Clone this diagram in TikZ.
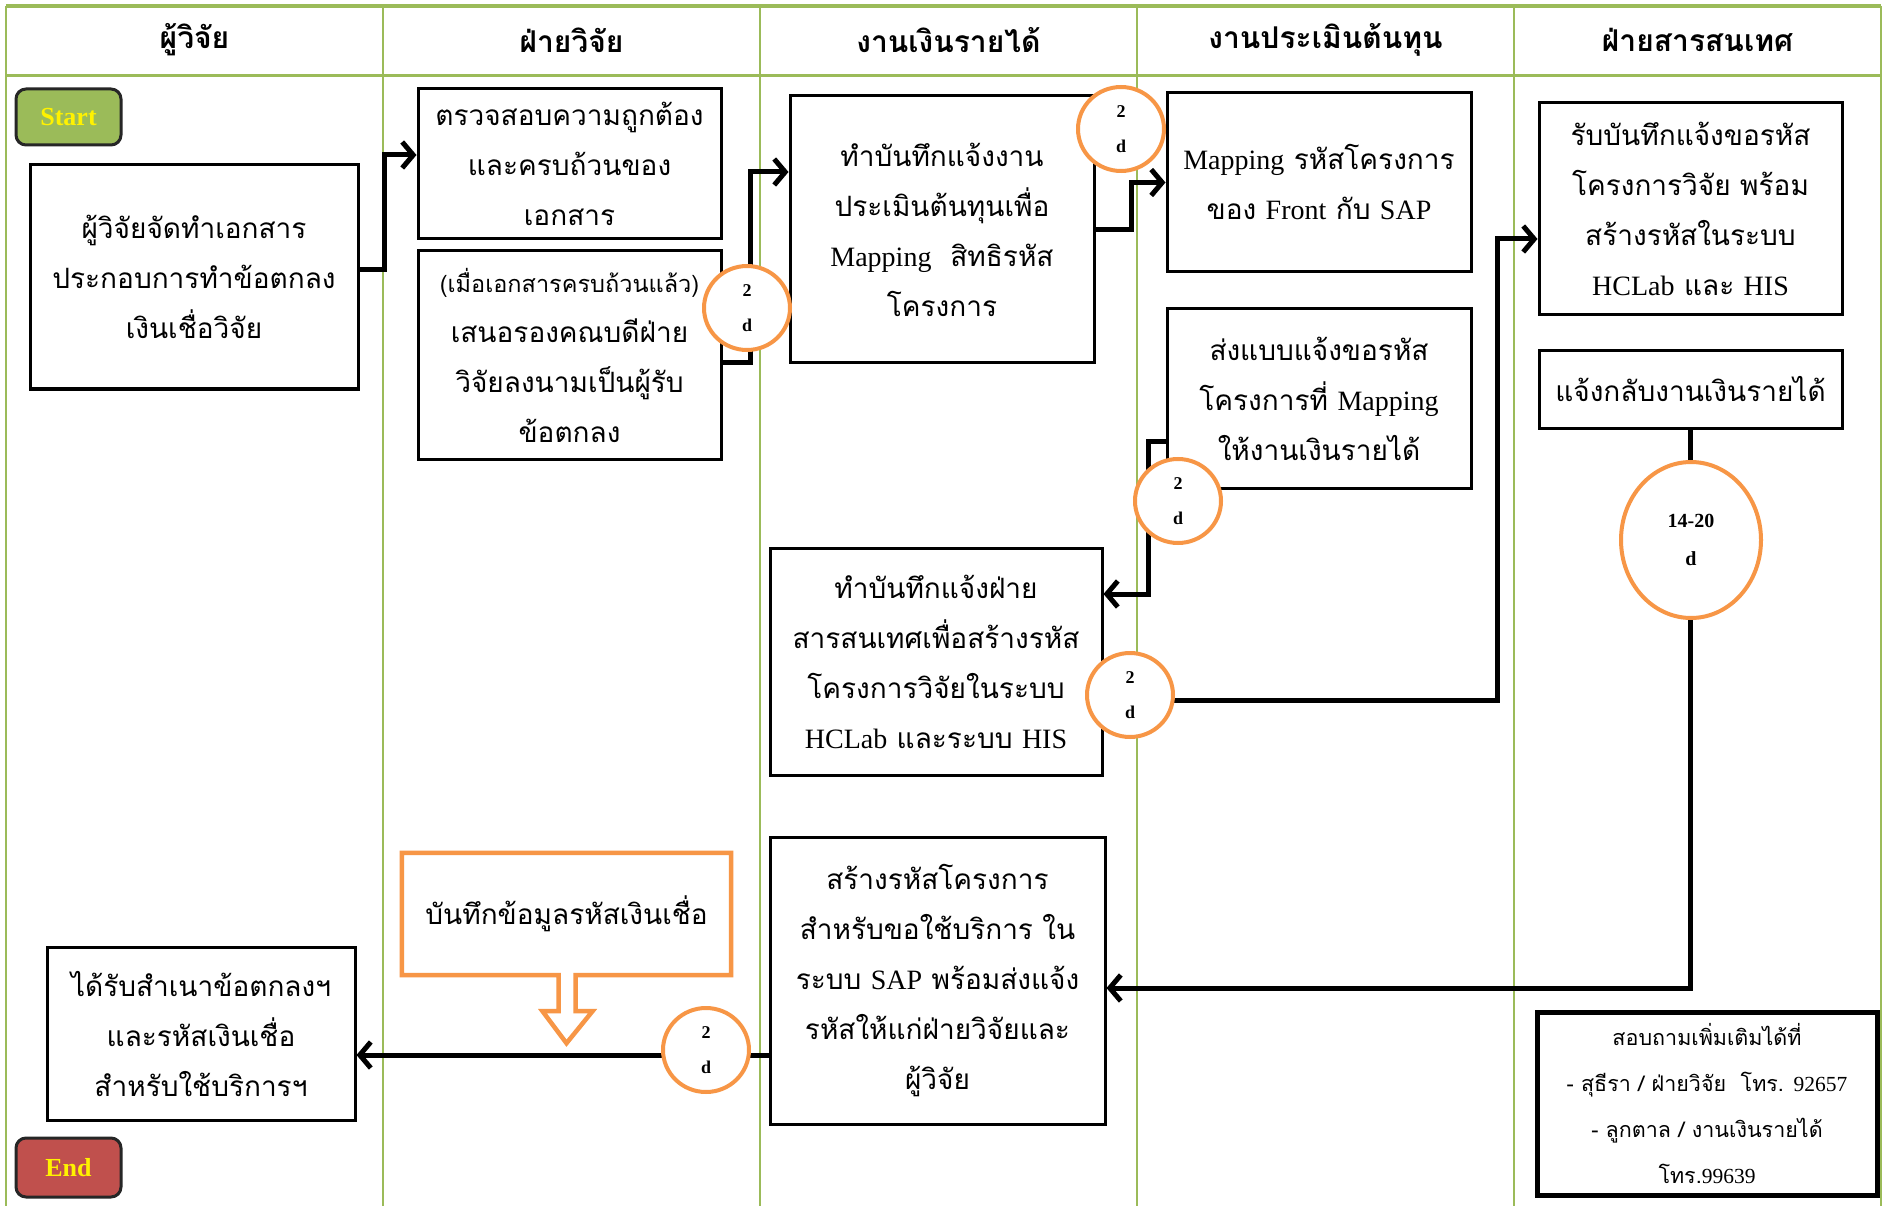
\documentclass[tikz,border=0pt]{standalone}
\usepackage{fontspec}
\setmainfont{Liberation Serif}
\newfontfamily\thaifont[Script=Thai]{Loma}
\newcommand\latw[1]{{\rmfamily #1}}
\usetikzlibrary{arrows.meta,calc,shapes.geometric}
\definecolor{lanegreen}{HTML}{9BBB59}
\definecolor{orng}{HTML}{F79646}
\definecolor{endred}{HTML}{C0504D}
\begin{document}
\begin{tikzpicture}[x=1pt,y=-1pt,
  lane/.style={draw=lanegreen, line width=2.5pt},
  hdr/.style={font=\thaifont\bfseries\fontsize{30}{36}\selectfont, inner sep=0pt},
  box/.style={draw=black, line width=3pt, fill=white, align=center, inner sep=0pt,
    font=\thaifont\fontsize{28}{50}\selectfont},
  term/.style={draw=black!85, line width=3pt, rounded corners=10pt, minimum width=105, minimum height=56,
    font=\bfseries\fontsize{26}{26}\selectfont, text=yellow, inner sep=0pt},
  dur/.style={ellipse, draw=orng, line width=4pt, fill=white, inner sep=0pt, align=center,
    minimum width=86, minimum height=84, font=\bfseries\fontsize{18}{35}\selectfont},
  conn/.style={draw=black, line width=5pt, line join=miter, -{Straight Barb[length=11pt,width=26pt]}},
  callout/.style={draw=orng, line width=4.5pt, fill=white, line join=miter}
]
\useasboundingbox (0,0) rectangle (1883,1206);
\fill[white] (0,0) rectangle (1883,1206);

% lanes
\draw[lane, line width=4pt] (6,6) -- (1881,6);
\draw[lane, line width=3pt] (6,76) -- (1881,76);
\foreach \xx in {6,383,760,1137,1514,1881} \draw[lane] (\xx,6) -- (\xx,1206);

\node[hdr] (h1) at (194.5,40) {ผู้วิจัย};
\node[hdr] (h2) at (571.5,40) {ฝ่ายวิจัย};
\node[hdr] (h3) at (948.5,40) {งานเงินรายได้};
\node[hdr] (h4) at (1325.5,40) {งานประเมินต้นทุน};
\node[hdr] (h5) at (1697.5,40) {ฝ่ายสารสนเทศ};

% terminals
\node[term, fill=lanegreen] (start) at (68.5,117) {Start};
\node[term, fill=endred, minimum height=59] (end) at (68.5,1167.5) {End};

% boxes
\node[box, minimum width=328, minimum height=224] (A) at (194,277)
  {ผู้วิจัยจัดทำเอกสาร\\ประกอบการทำข้อตกลง\\เงินเชื่อวิจัย};
\node[box, minimum width=303, minimum height=150] (B) at (569.5,164)
  {ตรวจสอบความถูกต้อง\\และครบถ้วนของ\\เอกสาร};
\node[box, minimum width=303, minimum height=208] (C) at (569.5,355)
  {{\fontsize{23.5}{50}\selectfont (เมื่อเอกสารครบถ้วนแล้ว)}\\เสนอรองคณบดีฝ่าย\\วิจัยลงนามเป็นผู้รับ\\ข้อตกลง};
\node[box, minimum width=304, minimum height=267] (D) at (942,229.5)
  {ทำบันทึกแจ้งงาน\\ประเมินต้นทุนเพื่อ\\\latw{Mapping}~~สิทธิรหัส\\โครงการ};
\node[box, minimum width=304, minimum height=179] (E) at (1319,182.5)
  {\latw{Mapping} รหัสโครงการ\\ของ \latw{Front} กับ \latw{SAP}};
\node[box, minimum width=304, minimum height=179] (F) at (1319,398.5)
  {ส่งแบบแจ้งขอรหัส\\โครงการที่ \latw{Mapping}\\ให้งานเงินรายได้};
\node[box, minimum width=332, minimum height=227] (G) at (936,661.5)
  {ทำบันทึกแจ้งฝ่าย\\สารสนเทศเพื่อสร้างรหัส\\โครงการวิจัยในระบบ\\\latw{HCLab} และระบบ \latw{HIS}};
\node[box, minimum width=303, minimum height=212] (H) at (1690.5,209)
  {รับบันทึกแจ้งขอรหัส\\โครงการวิจัย พร้อม\\สร้างรหัสในระบบ\\\latw{HCLab} และ \latw{HIS}};
\node[box, minimum width=303, minimum height=77] (I) at (1690.5,389.5)
  {แจ้งกลับงานเงินรายได้};
\node[box, minimum width=335, minimum height=287] (J) at (937.5,980.5)
  {สร้างรหัสโครงการ\\สำหรับขอใช้บริการ ใน\\ระบบ \latw{SAP} พร้อมส่งแจ้ง\\รหัสให้แก่ฝ่ายวิจัยและ\\ผู้วิจัย};
\node[box, minimum width=308, minimum height=173] (M) at (201,1033.5)
  {ได้รับสำเนาข้อตกลงฯ\\และรหัสเงินเชื่อ\\สำหรับใช้บริการฯ};
\node[box, line width=5pt, minimum width=340, minimum height=183,
  font=\thaifont\fontsize{21.5}{46}\selectfont] (K) at (1707,1103.5)
  {สอบถามเพิ่มเติมได้ที่\\- สุธีรา / ฝ่ายวิจัย~~โทร. \latw{92657}\\- ลูกตาล / งานเงินรายได้\\โทร.\latw{99639}};

% callout
\node[minimum width=329, minimum height=122, inner sep=0pt] (L) at (566.5,914) {};
\draw[callout] (L.north west) -- (L.north east) -- (L.south east)
  -- ([xshift=9pt]L.south) -- ++(0,36) -- ++(17,0) -- ++(-26,32) -- ++(-24,-32)
  -- ++(16,0) -- ([xshift=-8pt]L.south) -- (L.south west) -- cycle;
\node[font=\thaifont\fontsize{28}{50}\selectfont] (Lt) at (L.center) {บันทึกข้อมูลรหัสเงินเชื่อ};

% connectors
\draw[conn] ([yshift=7pt]A.east) -- ++(25,0) |- ([yshift=9pt]B.west);
\draw[conn] ([yshift=-8pt]C.east) -- ++(28,0) |- ([yshift=57.5pt]D.west);
\draw[conn] (D.east) -- ++(36,0) |- (E.west);
\draw[conn] ([yshift=-42.5pt]F.west) -- ++(-17,0) |- ([yshift=67.5pt]G.east);
\draw[conn] ([yshift=-38.5pt]G.east) -- ++(394,0) |- ([yshift=-30pt]H.west);
\draw[conn] (I.south) |- ([yshift=-7.5pt]J.east);
\draw[conn] ([yshift=-74.5pt]J.west) -- ([yshift=-74.5pt]J.west -| M.east);

% durations
\node[dur] (c1) at (747,308) {2\\d};
\node[dur] (c2) at (1121,129) {2\\d};
\node[dur] (c3) at (1178,501) {2\\d};
\node[dur] (c4) at (1130,695) {2\\d};
\node[dur] (c5) at (706,1050) {2\\d};
\node[dur, minimum width=140, minimum height=156, font=\bfseries\fontsize{20}{38}\selectfont] (c6) at (1691,540) {14-20\\d};
\end{tikzpicture}
\end{document}
